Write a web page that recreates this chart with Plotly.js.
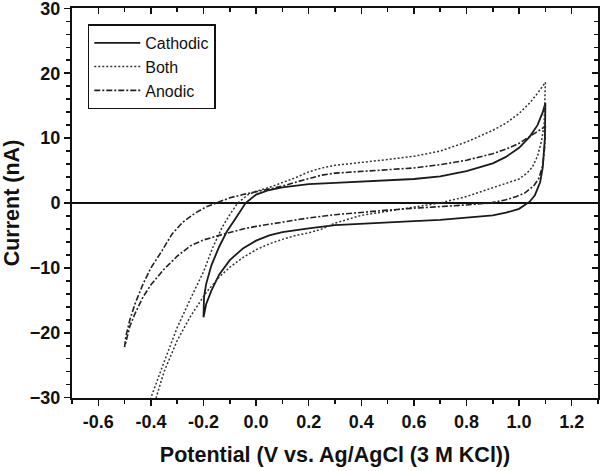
<!DOCTYPE html>
<html>
<head>
<meta charset="utf-8">
<script src="https://cdn.plot.ly/plotly-3.0.1.min.js"></script>
<style>
  html, body { margin: 0; padding: 0; background: #fff; }
  #graph { width: 601px; height: 471px; }
</style>
</head>
<body>
<div id="graph"></div>
<script>
// 循环伏安曲线，正扫 + 回扫连在一起
const cathodicX = [-0.2, -0.198, -0.19, -0.17, -0.14, -0.11, -0.08, -0.04, 0.0, 0.05, 0.1, 0.2, 0.3, 0.4, 0.5, 0.6, 0.7, 0.8, 0.9, 0.95, 1.0, 1.04, 1.07, 1.09, 1.1,
                   1.098, 1.09, 1.08, 1.06, 1.04, 1.0, 0.95, 0.9, 0.8, 0.7, 0.6, 0.5, 0.4, 0.3, 0.2, 0.1, 0.05, 0.0, -0.05, -0.1, -0.14, -0.17, -0.19, -0.2];
const cathodicY = [-17.6, -14.5, -12.5, -9.6, -6.7, -4.3, -2.5, 0, 1.3, 2.0, 2.4, 2.9, 3.1, 3.3, 3.5, 3.7, 4.1, 4.9, 6.1, 7.1, 8.5, 10.2, 12.0, 14.0, 15.4,
                   10.0, 5.5, 3.2, 1.2, 0.2, -0.9, -1.5, -1.9, -2.3, -2.6, -2.8, -3.0, -3.2, -3.4, -3.9, -4.5, -5.0, -5.8, -7.0, -8.8, -11.0, -13.5, -15.6, -17.6];

const bothX = [-0.42, -0.40, -0.35, -0.30, -0.25, -0.20, -0.165, -0.13, -0.10, -0.07, -0.03, 0.0, 0.05, 0.1, 0.15, 0.2, 0.25, 0.3, 0.4, 0.5, 0.6, 0.7, 0.8, 0.9, 0.95, 1.0, 1.04, 1.07, 1.1,
               1.095, 1.085, 1.07, 1.05, 1.03, 1.0, 0.95, 0.9, 0.8, 0.7, 0.6, 0.5, 0.4, 0.3, 0.25, 0.2, 0.15, 0.1, 0.05, 0.0, -0.05, -0.1, -0.14, -0.19, -0.25, -0.30, -0.35, -0.38, -0.40];
const bothY = [-32, -30, -24.5, -19.2, -14.8, -10.6, -6.9, -3.8, -1.8, 0, 1.3, 1.8, 2.4, 3.1, 3.9, 4.8, 5.4, 5.8, 6.2, 6.7, 7.2, 8.0, 9.4, 11.2, 12.3, 13.8, 15.4, 16.9, 18.6,
               12.0, 9.5, 7.2, 5.5, 4.6, 3.7, 3.0, 2.3, 1.0, 0.0, -0.6, -1.2, -1.9, -3.1, -4.0, -4.6, -5.0, -5.6, -6.3, -7.2, -8.4, -9.9, -11.4, -13.8, -17.5, -21.2, -26.0, -30.0, -32.0];

const anodicX = [-0.5, -0.495, -0.48, -0.46, -0.43, -0.4, -0.36, -0.32, -0.28, -0.23, -0.19, -0.15, -0.1, -0.05, 0.0, 0.05, 0.1, 0.15, 0.2, 0.25, 0.3, 0.4, 0.5, 0.6, 0.7, 0.8, 0.9, 0.95, 1.0, 1.04, 1.07, 1.1,
                 1.097, 1.09, 1.075, 1.055, 1.02, 0.99, 0.95, 0.89, 0.8, 0.7, 0.6, 0.5, 0.4, 0.3, 0.2, 0.1, 0.05, 0.0, -0.05, -0.1, -0.15, -0.2, -0.25, -0.3, -0.35, -0.4, -0.43, -0.46, -0.48, -0.5];
const anodicY = [-22.2, -20.5, -18.0, -15.5, -12.5, -10.0, -7.5, -4.8, -3.0, -1.5, -0.6, 0, 0.8, 1.3, 1.7, 2.1, 2.6, 3.2, 3.8, 4.3, 4.6, 4.9, 5.1, 5.4, 5.9, 6.6, 7.6, 8.3, 9.2, 10.2, 11.0, 11.8,
                 8.5, 5.8, 3.8, 2.6, 1.5, 1.0, 0.5, 0.0, -0.3, -0.5, -0.8, -1.1, -1.4, -1.8, -2.3, -2.9, -3.3, -3.6, -4.0, -4.5, -5.1, -5.7, -6.6, -8.2, -10.2, -12.6, -14.5, -17.0, -19.0, -22.2];

const xTickVals = [-0.6, -0.4, -0.2, 0.0, 0.2, 0.4, 0.6, 0.8, 1.0, 1.2];
const xTickText = ['-0.6', '-0.4', '-0.2', '0.0', '0.2', '0.4', '0.6', '0.8', '1.0', '1.2'];
const yTickVals = [-30, -20, -10, 0, 10, 20, 30];
const xRange = [-0.7, 1.3];
const yRange = [-30.05, 30.05];

const tickFont = { family: 'Liberation Sans, Arial, sans-serif', size: 18, color: '#111', weight: 'bold' };
const titleFont = { family: 'Liberation Sans, Arial, sans-serif', size: 21.5, color: '#111', weight: 'bold' };

const traces = [
    { x: cathodicX, y: cathodicY, name: 'Cathodic', mode: 'lines',
      line: { color: '#1a1a1a', width: 1.8, dash: 'solid' } },
    { x: bothX, y: bothY, name: 'Both', mode: 'lines',
      line: { color: '#333', width: 1.5, dash: '2px,2px' } },
    { x: anodicX, y: anodicY, name: 'Anodic', mode: 'lines',
      line: { color: '#222', width: 1.6, dash: '6px,2px,2px,2px' } },
    // 占位 trace (只有一个空点)，让上方/右侧的坐标轴画出来
    { x: [null], y: [null], xaxis: 'x2', yaxis: 'y2', mode: 'markers',
      marker: { opacity: 0 }, showlegend: false, hoverinfo: 'skip' }
];

const layout = {
    width: 601, height: 471,
    margin: { l: 72, r: 3, t: 8, b: 73 },
    paper_bgcolor: '#fff', plot_bgcolor: '#fff',
    showlegend: true,
    legend: {
        x: 0.03, y: 0.958, xanchor: 'left', yanchor: 'top',
        bgcolor: '#fff', bordercolor: '#111', borderwidth: 1.5,
        font: { family: 'Liberation Sans, Arial, sans-serif', size: 16, color: '#111' },
        itemwidth: 46, tracegroupgap: 0
    },
    xaxis: {
        range: xRange, showgrid: false, zeroline: false,
        showline: true, linecolor: '#111', linewidth: 2,
        tickmode: 'array', tickvals: xTickVals, ticktext: xTickText,
        ticks: 'outside', ticklen: 6, tickwidth: 1.5, tickcolor: '#111',
        minor: { dtick: 0.1, tick0: 0, ticks: 'outside', ticklen: 4, tickwidth: 1.5, tickcolor: '#111' },
        tickfont: tickFont, ticklabeloverflow: 'allow',
        title: { text: 'Potential (V vs. Ag/AgCl (3 M KCl))', font: titleFont, standoff: 16 }
    },
    yaxis: {
        range: yRange, showgrid: false,
        zeroline: true, zerolinecolor: '#111', zerolinewidth: 2,
        showline: true, linecolor: '#111', linewidth: 2,
        tickmode: 'array', tickvals: yTickVals,
        ticks: 'outside', ticklen: 6, tickwidth: 1.5, tickcolor: '#111',
        minor: { dtick: 2, tick0: 0, ticks: 'outside', ticklen: 4, tickwidth: 1.5, tickcolor: '#111' },
        tickfont: tickFont, ticklabeloverflow: 'allow',
        title: { text: 'Current (nA)', font: titleFont, standoff: 8 }
    },
    // 上方和右侧的坐标轴，刻度朝内
    xaxis2: {
        overlaying: 'x', side: 'top', anchor: 'y2', range: xRange, showgrid: false, zeroline: false,
        showline: true, linecolor: '#111', linewidth: 2, showticklabels: false,
        tickmode: 'array', tickvals: xTickVals,
        ticks: 'inside', ticklen: 6, tickwidth: 1.5, tickcolor: '#111',
        minor: { dtick: 0.1, tick0: 0, ticks: 'inside', ticklen: 4, tickwidth: 1.5, tickcolor: '#111' }
    },
    yaxis2: {
        overlaying: 'y', side: 'right', anchor: 'x2', range: yRange, showgrid: false, zeroline: false,
        showline: true, linecolor: '#111', linewidth: 2, showticklabels: false,
        tickmode: 'array', tickvals: yTickVals,
        ticks: 'inside', ticklen: 6, tickwidth: 1.5, tickcolor: '#111',
        minor: { dtick: 2, tick0: 0, ticks: 'inside', ticklen: 4, tickwidth: 1.5, tickcolor: '#111' }
    }
};

Plotly.newPlot('graph', traces, layout, { displayModeBar: false, staticPlot: true });
</script>
</body>
</html>
